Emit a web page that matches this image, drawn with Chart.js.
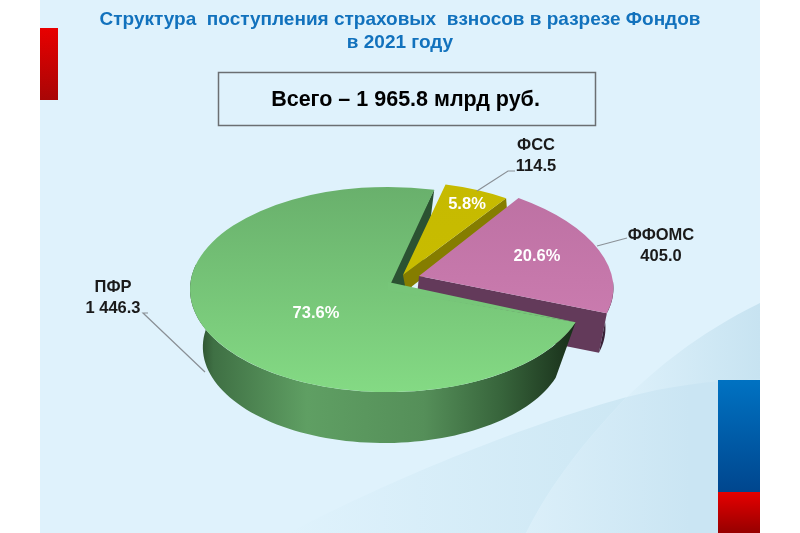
<!DOCTYPE html>
<html>
<head>
<meta charset="utf-8">
<title>Структура поступления страховых взносов</title>
<script src="https://cdn.jsdelivr.net/npm/chart.js@4/dist/chart.umd.min.js"></script>
<style>
  html, body { margin: 0; padding: 0; background: #fff; }
  canvas { display: block; filter: blur(0.4px); }
</style>
</head>
<body>
<canvas id="pieChart" width="800" height="533"></canvas>
<script>
// Data
const funds = ['ФСС', 'ФФОМС', 'ПФР'];
const fundValues = [114.5, 405.0, 1446.3];
const titleLines = ['Структура  поступления страховых  взносов в разрезе Фондов', 'в 2021 году'];
const totalPrefix = 'Всего – ';
const totalUnit = ' млрд руб.';

const FONT = '"Liberation Sans", Arial, sans-serif';
const RADIUS = 198;

// Colours per slice: top face gradient, radial wall
const topColors = [['#c6ba00', '#cabe00'], ['#bc70a2', '#d080b4'], ['#69b06c', '#84da84']];
const wallColors = ['#857d00', '#633a5a', '#2b5232'];

// How each slice is laid on the tilted plane (a, b, c, d is a 2d matrix, x/y the apex on the page)
const topViews = [
  { x: 403, y: 275, a: 0.92, b: 0, c: 0, d: 0.47 },
  { x: 419, y: 276, a: 0.98, b: 0.03, c: 0.063, d: 0.498 },
  { x: 388, y: 289.5, a: 1, b: 0, c: 0, d: 0.518 }
];
const bottomViews = [
  { x: 406, y: 291, a: 0.903, b: 0, c: 0, d: 0.484 },
  { x: 415, y: 316, a: 0.96, b: 0.03, c: 0.06, d: 0.49 },
  { x: 384, y: 347, a: 0.915, b: 0, c: 0, d: 0.485 }
];
const PIE_APEX_LIFT = 7.5; // the green apex sits above the ellipse centre in the original perspective

// Where the labels sit on the page
const valueLabelPos = [[536, 145], [661, 235], [113, 287]];
const percentLabelPos = [[467, 204], [537, 256], [316, 313]];
const leaderLines = [
  [[515, 171], [508, 171], [477, 191]],
  [[627, 238], [597, 246]],
  [[148, 313], [143, 313], [205, 372]]
];

const formatValue = v => v.toFixed(1).replace(/\B(?=(\d{3})(?!\d))(?=.*\.)/g, ' ');

const project = (view, r, angle) => [
  view.x + view.a * r * Math.cos(angle) + view.c * r * Math.sin(angle),
  view.y + view.b * r * Math.cos(angle) + view.d * r * Math.sin(angle)
];

const fillOuterWall = (ctx, top, bottom, r, from, to, fill) => {
  const steps = 80;
  ctx.beginPath();
  for (let i = 0; i <= steps; i++) {
    const p = project(top, r, from + (to - from) * i / steps);
    i ? ctx.lineTo(p[0], p[1]) : ctx.moveTo(p[0], p[1]);
  }
  for (let i = steps; i >= 0; i--) {
    const p = project(bottom, r, from + (to - from) * i / steps);
    ctx.lineTo(p[0], p[1]);
  }
  ctx.closePath();
  ctx.fillStyle = fill;
  ctx.fill();
};

const fillRadialWall = (ctx, top, bottom, r, angle, fill, lift = 0) => {
  const a = project(top, r, angle);
  const b = project(bottom, r, angle);
  ctx.beginPath();
  ctx.moveTo(top.x, top.y - lift);
  ctx.lineTo(a[0], a[1]);
  ctx.lineTo(b[0], b[1]);
  ctx.lineTo(bottom.x, bottom.y);
  ctx.closePath();
  ctx.fillStyle = fill;
  ctx.fill();
};

const hGradient = (ctx, x0, x1, c0, c1) => {
  const g = ctx.createLinearGradient(x0, 0, x1, 0);
  g.addColorStop(0, c0);
  g.addColorStop(1, c1);
  return g;
};

// Slide behind the chart
const slideBackground = {
  id: 'slideBackground',
  beforeDraw(chart) {
    const ctx = chart.ctx;
    ctx.save();
    ctx.fillStyle = '#ffffff';
    ctx.fillRect(0, 0, 800, 533);
    ctx.fillStyle = '#dff2fc';
    ctx.fillRect(40, 0, 720, 533);

    // upper sweep, right of the long curve
    ctx.fillStyle = hGradient(ctx, 627, 760, '#dcf0fa', '#c7e3f1');
    ctx.beginPath();
    ctx.moveTo(760, 303);
    ctx.bezierCurveTo(695, 335, 655, 370, 627, 397);
    ctx.lineTo(760, 397);
    ctx.closePath();
    ctx.fill();

    // lower sweep, right of the same curve
    ctx.fillStyle = hGradient(ctx, 526, 690, '#dbeff9', '#cae5f3');
    ctx.beginPath();
    ctx.moveTo(760, 379);
    ctx.bezierCurveTo(710, 380, 665, 387, 627, 397);
    ctx.bezierCurveTo(585, 440, 550, 485, 526, 533);
    ctx.lineTo(760, 533);
    ctx.closePath();
    ctx.fill();

    // wedge between the two curves
    ctx.fillStyle = hGradient(ctx, 288, 700, '#dff2fc', '#c9e5f2');
    ctx.beginPath();
    ctx.moveTo(627, 397);
    ctx.bezierCurveTo(560, 415, 430, 460, 288, 533);
    ctx.lineTo(526, 533);
    ctx.bezierCurveTo(550, 485, 585, 440, 627, 397);
    ctx.closePath();
    ctx.fill();

    const bar = (x, y, w, h, c1, c2) => {
      const g = ctx.createLinearGradient(0, y, 0, y + h);
      g.addColorStop(0, c1);
      g.addColorStop(1, c2);
      ctx.fillStyle = g;
      ctx.fillRect(x, y, w, h);
    };
    bar(40, 28, 18, 72, '#e80000', '#a80606');
    bar(718, 380, 42, 112, '#0072c2', '#00468e');
    bar(718, 492, 42, 41, '#e60000', '#960000');
    ctx.restore();
  }
};

// Tilts the library's arcs and adds the walls under them
const tiltedPie = {
  id: 'tiltedPie',
  beforeDatasetDraw(chart, args) {
    const ctx = chart.ctx;
    const arcs = args.meta.data;
    const pfr = arcs.length - 1;

    // cut face of the big slice shows in the gap behind the exploded ones
    ctx.save();
    fillRadialWall(ctx, topViews[pfr], bottomViews[pfr], arcs[pfr].outerRadius, arcs[pfr].endAngle, wallColors[pfr], PIE_APEX_LIFT);
    ctx.restore();

    arcs.forEach((arc, i) => {
      const top = topViews[i];
      const bottom = bottomViews[i];
      ctx.save();
      if (i !== pfr) {
        fillRadialWall(ctx, top, bottom, arc.outerRadius, arc.endAngle, wallColors[i]);
      }
      if (i === 1) {
        fillOuterWall(ctx, top, bottom, arc.outerRadius, 0, arc.endAngle, '#3a2238');
      }
      if (i === pfr) {
        const g = ctx.createLinearGradient(190, 0, 580, 0);
        g.addColorStop(0, '#1e3a20');
        g.addColorStop(0.06, '#3f7044');
        g.addColorStop(0.3, '#5f9f63');
        g.addColorStop(0.6, '#558f59');
        g.addColorStop(0.8, '#37643b');
        g.addColorStop(1, '#162b17');
        fillOuterWall(ctx, top, bottom, arc.outerRadius, arc.startAngle, Math.PI * 1.08, g);
      }
      ctx.restore();

      ctx.save();
      ctx.transform(top.a, top.b, top.c, top.d, top.x, top.y);
      ctx.translate(-arc.x, -arc.y);
      arc.draw(ctx);
      ctx.restore();

      if (i === pfr) {
        const edge = project(top, arc.outerRadius, arc.startAngle);
        ctx.save();
        ctx.fillStyle = '#77c679';
        ctx.beginPath();
        ctx.moveTo(top.x, top.y - PIE_APEX_LIFT);
        ctx.lineTo(edge[0], edge[1]);
        ctx.lineTo(top.x, top.y + 1);
        ctx.closePath();
        ctx.fill();
        ctx.restore();
      }
    });
    return false;
  }
};

// Total box, percents, value labels and leader lines
const pieLabels = {
  id: 'pieLabels',
  afterDraw(chart) {
    const ctx = chart.ctx;
    const total = fundValues.reduce((a, b) => a + b, 0);
    ctx.save();

    ctx.strokeStyle = '#6b6f72';
    ctx.lineWidth = 1.5;
    ctx.strokeRect(218.5, 72.5, 377, 53);
    ctx.fillStyle = '#000';
    ctx.font = 'bold 21.5px ' + FONT;
    ctx.textAlign = 'center';
    ctx.textBaseline = 'middle';
    ctx.fillText(totalPrefix + formatValue(total) + totalUnit, 405.5, 100);

    ctx.strokeStyle = '#8a9096';
    ctx.lineWidth = 1.2;
    leaderLines.forEach(line => {
      ctx.beginPath();
      line.forEach((p, i) => i ? ctx.lineTo(p[0], p[1]) : ctx.moveTo(p[0], p[1]));
      ctx.stroke();
    });

    funds.forEach((name, i) => {
      ctx.fillStyle = '#1a1a1a';
      ctx.font = 'bold 16.5px ' + FONT;
      ctx.fillText(name, valueLabelPos[i][0], valueLabelPos[i][1]);
      ctx.fillText(formatValue(fundValues[i]), valueLabelPos[i][0], valueLabelPos[i][1] + 21);
      ctx.fillStyle = '#fff';
      ctx.fillText((fundValues[i] / total * 100).toFixed(1) + '%', percentLabelPos[i][0], percentLabelPos[i][1]);
    });
    ctx.restore();
  }
};

new Chart(document.getElementById('pieChart'), {
  type: 'pie',
  data: {
    labels: funds,
    datasets: [{
      data: fundValues,
      borderWidth: 0,
      backgroundColor: c => {
        const area = c.chart.chartArea;
        const colors = topColors[c.dataIndex];
        if (!area) return colors[0];
        const g = c.chart.ctx.createLinearGradient(0, -RADIUS + (area.top + area.bottom) / 2, 0, RADIUS + (area.top + area.bottom) / 2);
        g.addColorStop(0, colors[0]);
        g.addColorStop(1, colors[1]);
        return g;
      }
    }]
  },
  options: {
    responsive: false,
    animation: false,
    rotation: 13.5,
    radius: RADIUS,
    plugins: {
      legend: { display: false },
      tooltip: { enabled: false },
      title: {
        display: true,
        text: titleLines,
        color: '#1272bd',
        font: { family: FONT, size: 19, weight: 'bold', lineHeight: 1.21 },
        padding: { top: 8, bottom: 10 }
      }
    }
  },
  plugins: [slideBackground, tiltedPie, pieLabels]
});
</script>
</body>
</html>
